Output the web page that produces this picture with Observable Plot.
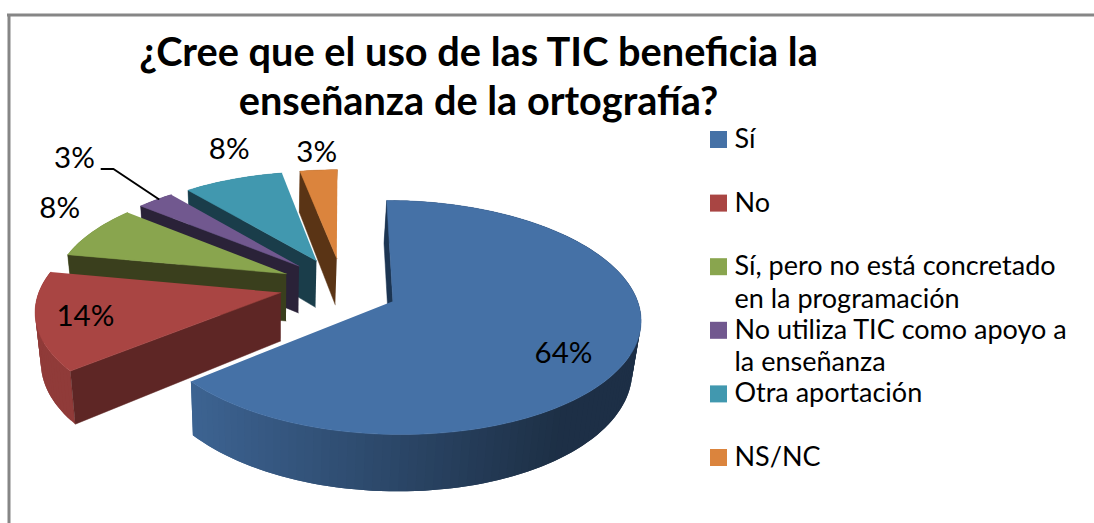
<!DOCTYPE html>
<html>
<head>
<meta charset="utf-8">
<script src="https://cdn.jsdelivr.net/npm/d3@7"></script>
<script src="https://cdn.jsdelivr.net/npm/@observablehq/plot@0.6"></script>
<style>html,body{margin:0;padding:0;background:#fff}svg{display:block}</style>
</head>
<body>
<div id="chart"></div>
<script>
const titleText = "¿Cree que el uso de las TIC beneficia la\nenseñanza de la ortografía?";
const categories = ["Sí", "No", "Sí, pero no está concretado\nen la programación", "No utiliza TIC como apoyo a\nla enseñanza", "Otra aportación", "NS/NC"];
const values = [64, 14, 8, 3, 8, 3];
const topColors = ["#4571a6", "#a94543", "#89a54e", "#71588f", "#4198af", "#db843d"];
const wallColors = ["#1c3552", "#5e2625", "#3a3f1d", "#2a2238", "#1a3d4a", "#5a3415"];

// view geometry of the tilted pie
const W = 1094, H = 523, font = "Lato, Carlito, Calibri, sans-serif";
const Cx = 342, Cy = 285, Rx = 240, Ry = 110.4, K = 0.137, depth = 48;
const shrink = 0.976, shrinkAt = 273, explodeX = 0.2627, explodeY = 0.255, blueApex = [0.206, -0.139];
const project = (X, Y, low = false) => {
  const w = 1 + K * Y;
  const sx = Cx + Rx * X / w, sy = Cy - Ry * Y / w;
  return low ? [shrinkAt + (sx - shrinkAt) * shrink, sy + depth / w] : [sx, sy];
};

const arcs = d3.pie().sort(null).startAngle(0).endAngle(2 * Math.PI)(values);
const poly = (list, id, fill, corners) => corners.forEach(([x, y]) => list.push({id, fill, x, y}));
const rimShade = x => x < 190 ? 0.85 : x < 400 ? 0.88 - (x - 190) / 210 * 0.26 : x < 560 ? 0.62 - (x - 400) / 160 * 0.2 : 0.42;
const scaleColor = (c, f) => { const r = d3.rgb(c); return d3.rgb(r.r * f, r.g * f, r.b * f).formatHex(); };

const slices = arcs.map((a, i) => {
  const mid = (a.startAngle + a.endAngle) / 2;
  const apex = i === 0 ? blueApex : [explodeX * Math.sin(mid), explodeY * Math.cos(mid)];
  const rad = i < 2 ? 1 : 0.97;
  const on = t => [apex[0] + rad * Math.sin(t), apex[1] + rad * Math.cos(t)];
  return {i, a, mid, apex, on, rimMid: project(...on(mid))};
});

// painter's order: farthest slice first, the large slice last; each slice rim, then wall, then top
const layers = [5, 4, 3, 2, 1, 0].map(i => {
  const {a, apex, on} = slices[i];
  const rim = [], face = [];
  const n = Math.max(4, Math.ceil((a.endAngle - a.startAngle) / (Math.PI / 100)));
  const ts = d3.range(n + 1).map(j => a.startAngle + (a.endAngle - a.startAngle) * j / n);
  d3.pairs(ts).forEach(([t0, t1], j) => {
    const t2 = Math.min(a.endAngle, t1 + (t1 - t0));
    const p0 = project(...on(t0)), p1 = project(...on(t1)), p2 = project(...on(t2));
    const f = rimShade((p0[0] + p1[0]) / 2);
    poly(rim, `r${i}-${j}`, scaleColor(topColors[i], f), [p0, p1, p2, project(...on(t2), true), project(...on(t1), true), project(...on(t0), true)]);
  });
  const t = a.startAngle;
  poly(face, `w${i}`, wallColors[i], [project(...apex), project(...on(t)), project(...on(t), true), project(...apex, true)]);
  poly(face, `t${i}`, topColors[i], [project(...apex), ...ts.map(t => project(...on(t)))]);
  return {rim, face};
});

const labelNudge = [[-68, 0], [49.5, -5], [-33, -23], [-81, -41], [-4, -30], [-2, -18]];
const labelRows = slices.map(s => ({
  text: values[s.i] + "%",
  x: s.rimMid[0] + labelNudge[s.i][0],
  y: s.rimMid[1] + labelNudge[s.i][1]
}));
const pr = slices[3].rimMid, lr = labelRows[3];
const leader = [[lr.x + 27, lr.y + 10], [lr.x + 39, lr.y + 10], [pr[0] + 3, pr[1] - 1]];

const swatchX = 710, swatch = 17, rowTop = 131, rowStep = 63.6;
const legend = categories.map((c, i) => ({c, i, y: rowTop + rowStep * i}));

const chart = Plot.plot({
  width: W, height: H, margin: 0,
  x: {domain: [0, W], range: [0, W], axis: null},
  y: {domain: [0, H], range: [0, H], axis: null},
  color: {type: "identity"},
  style: {background: "#fff"},
  marks: [
    Plot.ruleX([8.5], {y1: 14.5, y2: H, stroke: "#868686", strokeWidth: 3}),
    Plot.ruleY([14.5], {x1: 7, x2: W, stroke: "#868686", strokeWidth: 3}),
    layers.map(l => [
      Plot.line(l.rim, {x: "x", y: "y", z: "id", fill: "fill", stroke: "none"}),
      Plot.line(l.face, {x: "x", y: "y", z: "id", fill: "fill", stroke: "fill", strokeWidth: 0.5})
    ]),
    Plot.line(leader, {x: d => d[0], y: d => d[1], stroke: "#000", strokeWidth: 2}),
    Plot.text(labelRows, {x: "x", y: "y", text: "text", fill: "#000", fontSize: 29.5, fontFamily: font}),
    Plot.text([titleText], {x: () => 478, y: () => 30, text: d => d, lineAnchor: "top", lineHeight: 1.25, fill: "#000", fontSize: 39.7, fontWeight: 700, fontFamily: font}),
    Plot.rect(legend, {x1: () => swatchX, x2: () => swatchX + swatch, y1: "y", y2: d => d.y + swatch, fill: (d) => topColors[d.i]}),
    Plot.text(legend, {x: () => swatchX + 24, y: d => d.y - 6.5, text: "c", textAnchor: "start", lineAnchor: "top", lineHeight: 1.2, fill: "#000", fontSize: 27, fontFamily: font})
  ]
});
document.getElementById("chart").appendChild(chart);
</script>
</body>
</html>
